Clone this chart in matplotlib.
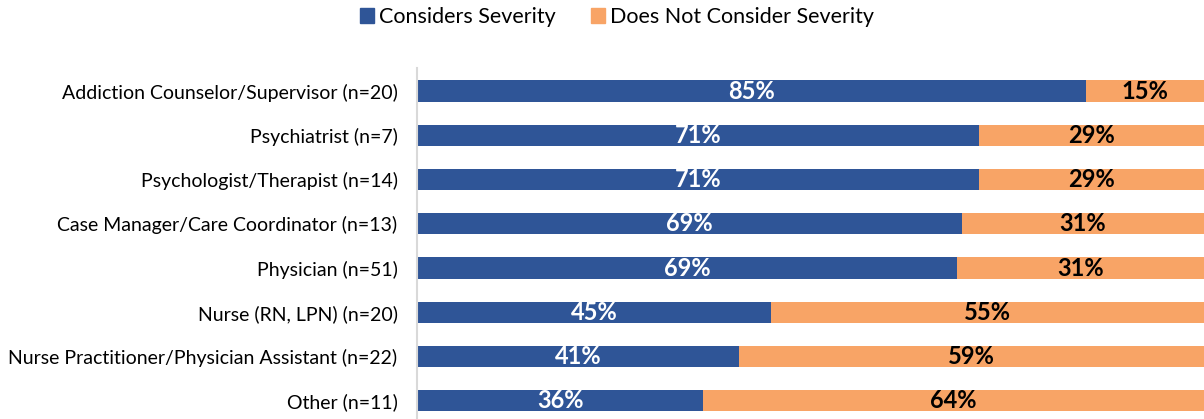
import matplotlib.pyplot as plt
from matplotlib.patches import Patch

plt.rcParams['font.family'] = ['Lato', 'DejaVu Sans']

categories = ['Addiction Counselor/Supervisor (n=20)', 'Psychiatrist (n=7)',
              'Psychologist/Therapist (n=14)', 'Case Manager/Care Coordinator (n=13)',
              'Physician (n=51)', 'Nurse (RN, LPN) (n=20)',
              'Nurse Practitioner/Physician Assistant (n=22)', 'Other (n=11)']
considers = [85.0, 71.4, 71.4, 69.2, 68.6, 45.0, 40.9, 36.4]
not_considers = [15.0, 28.6, 28.6, 30.8, 31.4, 55.0, 59.1, 63.6]

blue = '#2F5597'
orange = '#F8A466'

fig = plt.figure(figsize=(12.04, 4.19), dpi=100)
ax = fig.add_axes([417 / 1204, 0, 1 - 417 / 1204, 1 - 68 / 419])

y = list(range(len(categories)))
ax.barh(y, considers, height=0.48, color=blue)
ax.barh(y, not_considers, left=considers, height=0.48, color=orange)

for i in y:
    ax.text(considers[i] / 2, i, '%d%%' % round(considers[i]), ha='center', va='center',
            color='white', fontsize=17, fontweight='bold')
    ax.text(considers[i] + not_considers[i] / 2, i, '%d%%' % round(not_considers[i]),
            ha='center', va='center', color='black', fontsize=17, fontweight='bold')

ax.set_xlim(0, 100)
ax.set_ylim(7.41, -0.52)
ax.set_yticks(y)
ax.set_yticklabels(categories, fontsize=14)
ax.tick_params(axis='y', length=0, pad=14)
ax.set_xticks([])
for s in ['top', 'right', 'bottom']:
    ax.spines[s].set_visible(False)
ax.spines['left'].set_color('#D9D9D9')
ax.spines['left'].set_linewidth(1.5)

handles = [Patch(color=blue, label='Considers Severity'),
           Patch(color=orange, label='Does Not Consider Severity')]
fig.legend(handles=handles, loc='center', bbox_to_anchor=(617 / 1204, 1 - 17 / 419),
           ncol=2, frameon=False, fontsize=15.5, handlelength=0.65, handleheight=0.65,
           handletextpad=0.25, columnspacing=1.6)

fig.savefig('out.png', dpi=100)
